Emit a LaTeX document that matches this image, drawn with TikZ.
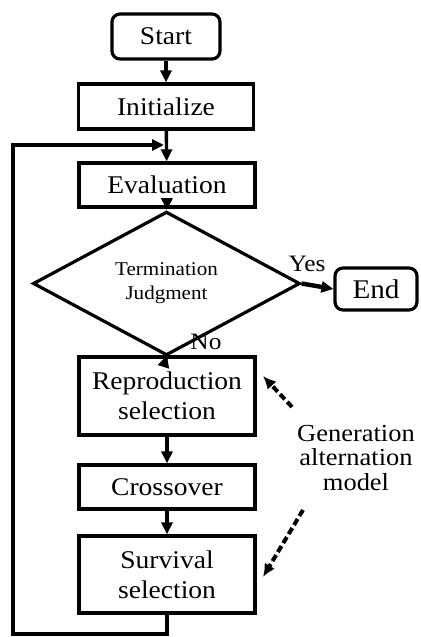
\documentclass[tikz,border=0pt]{standalone}
\usepackage{fontspec}
\setmainfont{Liberation Serif}[FakeStretch=1.08]
\usetikzlibrary{shapes.geometric,arrows.meta,calc}

\begin{document}
\begin{tikzpicture}[x=1bp,y=-1bp,
  txt/.style={font=\fontsize{25.5bp}{30bp}\selectfont},
  box/.style={draw,line width=3.2bp,minimum width=176bp,inner sep=0pt,align=center,txt},
  term/.style={box,rounded corners=8bp},
  decision/.style={draw,diamond,line width=3.2bp,inner sep=0pt,minimum width=267bp,minimum height=91bp,
    align=center,font=\fontsize{19.5bp}{24bp}\selectfont},
  flow/.style={line width=3.4bp,-{Triangle[length=12bp,width=11bp]}},
  hint/.style={line width=4bp,dash pattern=on 7bp off 3.5bp,-{Latex[length=13bp,width=12bp]}},
  lbl/.style={inner sep=0pt,font=\fontsize{23.5bp}{26bp}\selectfont}
]
\useasboundingbox (0,0) rectangle (420,637);

% main column
\node[term,minimum width=108bp,minimum height=45bp] (start) at (166,36.5) {Start};
\node[box,minimum width=175bp,minimum height=45bp] (init) at (166,106.5) {Initialize};
\node[box,minimum height=44bp] (eval) at (167,185) {Evaluation};
\node[decision] (judge) at (166.5,283.5) {Termination\\Judgment};
\node[term,minimum width=82bp,minimum height=42bp,font=\fontsize{27bp}{30bp}\selectfont] (end) at (376,289) {End};
\node[box,minimum height=78bp] (rep) at (167,396) {Reproduction\\selection};
\node[box,minimum height=44bp] (cross) at (167,487) {Crossover};
\node[box,minimum height=77bp] (surv) at (167,574.5) {Survival\\selection};

% branch labels
\node[lbl] (yes) at (307,264) {Yes};
\node[lbl] (no) at (206,342) {No};

% annotation
\node[align=center,inner sep=0pt,font=\fontsize{24.5bp}{24.5bp}\selectfont] (gam) at (356,458) {Generation\\alternation\\model};

% connectors
\draw[flow] (start) -- (init);
\draw[flow] (init) -- (eval);
\draw[flow] (eval) -- (judge);
\draw[flow,line width=4.4bp] (judge.east) -- (end.west);
\draw[flow] (judge.south) -- (rep.north);
\draw[flow] (rep) -- (cross);
\draw[flow] (cross) -- (surv);

% loop back to evaluation
\coordinate (fbBot) at (13,634);
\coordinate (merge) at (164,145);
\draw[flow,line width=3.6bp] (surv.south) |- (fbBot) |- (merge);

% annotation pointers
\coordinate (p1s) at (292,407);
\coordinate (p1e) at (263,376);
\coordinate (p2s) at (303,510);
\coordinate (p2e) at (263,577);
\draw[hint] (p1s) -- (p1e);
\draw[hint] (p2s) -- (p2e);
\end{tikzpicture}
\end{document}
